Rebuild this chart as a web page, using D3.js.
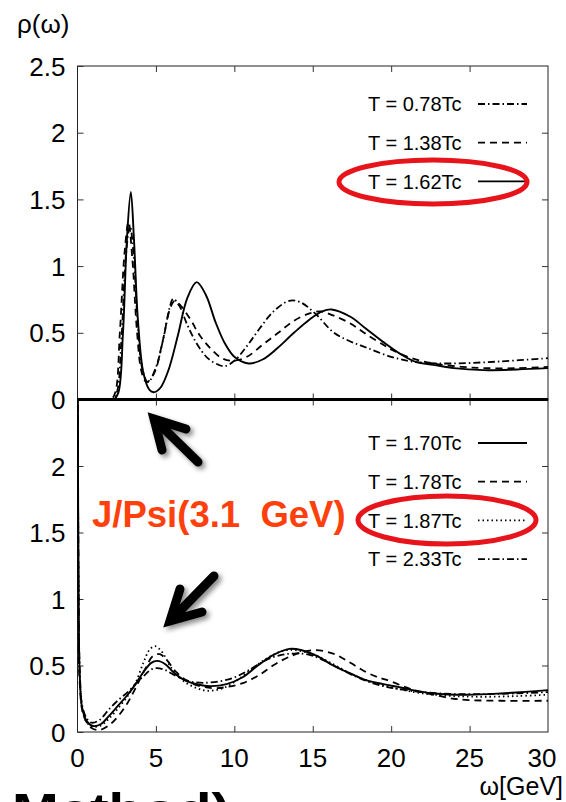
<!DOCTYPE html>
<html><head><meta charset="utf-8">
<script src="https://cdn.jsdelivr.net/npm/d3@7"></script>
<style>
html,body{margin:0;padding:0;background:#fff;}
svg{display:block;font-family:"Liberation Sans",Arial,Helvetica,sans-serif;}
</style></head>
<body><div id="chart"></div>
<script>
// ---------- data ----------
const xTicks = [0,5,10,15,20,25,30];
const yTicksTop = [0,0.5,1,1.5,2,2.5];
const yTicksBottom = [0,0.5,1,1.5,2];
const topLabels = ["T = 0.78Tc","T = 1.38Tc","T = 1.62Tc"];
const bottomLabels = ["T = 1.70Tc","T = 1.78Tc","T = 1.87Tc","T = 2.33Tc"];

// top panel
const top078 = [[0,0],[2.2,0],[2.5,0.05],[2.8,0.45],[3.1,1.1],[3.35,1.3],[3.6,1.05],[3.85,0.55],[4.15,0.22],[4.5,0.13],[5.0,0.24],[5.5,0.47],[5.9,0.7],[6.1,0.755],[6.5,0.7],[7.0,0.56],[7.6,0.42],[8.3,0.31],[9.0,0.26],[9.4,0.25],[10.0,0.29],[10.8,0.4],[11.6,0.53],[12.5,0.66],[13.5,0.74],[14.2,0.73],[15.2,0.64],[16.3,0.505],[17.3,0.44],[18.4,0.39],[20.0,0.32],[21.6,0.28],[23.8,0.27],[26.9,0.285],[30,0.31]];
const top138 = [[0,0],[2.1,0],[2.4,0.05],[2.7,0.5],[3.0,1.1],[3.25,1.33],[3.5,1.05],[3.8,0.5],[4.1,0.2],[4.4,0.13],[4.9,0.2],[5.4,0.42],[5.9,0.68],[6.2,0.74],[6.6,0.7],[7.2,0.6],[7.8,0.48],[8.5,0.38],[9.2,0.31],[9.9,0.29],[10.8,0.32],[11.8,0.41],[12.8,0.5],[13.8,0.59],[14.8,0.645],[15.5,0.66],[16.3,0.63],[17.4,0.57],[18.4,0.49],[19.5,0.41],[20.1,0.37],[21.3,0.31],[22.7,0.27],[24.5,0.245],[26,0.235],[28,0.235],[30,0.245]];
const top162 = [[0,0],[2.3,0],[2.6,0.05],[2.9,0.5],[3.15,1.2],[3.4,1.555],[3.6,1.2],[3.85,0.6],[4.2,0.2],[4.6,0.07],[4.9,0.055],[5.3,0.09],[5.8,0.22],[6.4,0.48],[7.0,0.76],[7.6,0.88],[8.2,0.78],[8.8,0.58],[9.4,0.42],[10.0,0.32],[10.9,0.27],[11.8,0.3],[12.7,0.38],[13.8,0.5],[14.8,0.6],[15.6,0.66],[16.2,0.675],[17.4,0.62],[18.4,0.53],[19.5,0.43],[20.6,0.34],[21.6,0.28],[22.7,0.26],[24.0,0.235],[25.9,0.22],[28,0.225],[30,0.235]];

// bottom panel
const bot170 = [[0.02,3],[0.06,1.2],[0.15,0.4],[0.3,0.18],[0.6,0.08],[1.0,0.045],[1.5,0.06],[2.0,0.12],[2.6,0.2],[3.2,0.28],[3.7,0.36],[4.2,0.45],[4.7,0.52],[5.1,0.535],[5.6,0.51],[6.2,0.44],[7.0,0.38],[8.0,0.35],[8.5,0.345],[9.5,0.36],[10.5,0.41],[11.5,0.5],[12.5,0.58],[13.5,0.625],[14.3,0.615],[15.3,0.57],[16.3,0.5],[17.4,0.44],[18.4,0.39],[19.5,0.36],[20.6,0.335],[21.6,0.31],[22.7,0.29],[24.8,0.28],[27,0.29],[30,0.315]];
const bot178 = [[0.02,3],[0.06,1.2],[0.15,0.35],[0.4,0.12],[0.9,0.03],[1.4,0.015],[2.0,0.05],[2.6,0.12],[3.2,0.22],[3.7,0.33],[4.3,0.47],[4.8,0.57],[5.25,0.585],[5.7,0.54],[6.3,0.45],[7.2,0.37],[8.6,0.33],[9.6,0.34],[10.6,0.37],[11.6,0.43],[12.6,0.51],[13.8,0.58],[15.0,0.615],[16.3,0.59],[17.4,0.52],[18.4,0.45],[19.2,0.41],[20.0,0.38],[21.3,0.32],[22.7,0.28],[24.0,0.25],[25.0,0.24],[27,0.235],[30,0.235]];
const bot187 = [[0.02,3],[0.06,1.2],[0.15,0.4],[0.3,0.17],[0.6,0.07],[1.0,0.04],[1.5,0.05],[2.0,0.1],[2.6,0.18],[3.2,0.27],[3.7,0.37],[4.2,0.52],[4.6,0.62],[4.95,0.645],[5.4,0.6],[6.0,0.48],[6.8,0.38],[7.6,0.33],[8.3,0.31],[9.3,0.33],[10.3,0.4],[11.3,0.49],[12.3,0.57],[13.3,0.615],[14.2,0.61],[15.2,0.575],[16.3,0.51],[17.4,0.44],[18.4,0.39],[19.5,0.35],[20.6,0.32],[22,0.29],[24,0.27],[26,0.265],[28,0.27],[30,0.28]];
const bot233 = [[0.02,3],[0.06,1.2],[0.15,0.45],[0.3,0.2],[0.6,0.1],[0.9,0.07],[1.4,0.09],[2.0,0.17],[2.6,0.24],[3.2,0.3],[3.7,0.36],[4.3,0.43],[4.7,0.47],[5.05,0.48],[5.6,0.465],[6.3,0.42],[7.2,0.38],[8.0,0.37],[9.0,0.38],[10.0,0.41],[11.0,0.47],[12.0,0.54],[13.0,0.58],[13.8,0.59],[14.6,0.585],[15.5,0.55],[16.5,0.49],[17.5,0.43],[18.5,0.38],[19.5,0.345],[20.6,0.32],[22,0.3],[24,0.285],[26,0.285],[28,0.29],[30,0.3]];

// ---------- drawing ----------
const W = 566, H = 802;
const svg = d3.select("#chart").append("svg").attr("width",W).attr("height",H);
const defs = svg.append("defs");
const f = defs.append("filter").attr("id","shadow").attr("x","-50%").attr("y","-50%").attr("width","200%").attr("height","200%");
f.append("feDropShadow").attr("dx",3).attr("dy",3).attr("stdDeviation",2.5).attr("flood-color","#000").attr("flood-opacity",0.45);

const x = d3.scaleLinear([0,30],[77.5,548]);
const yT = d3.scaleLinear([0,2.5],[399.5,66]);
const yB = d3.scaleLinear([0,2.5],[732,399.5]);

defs.append("clipPath").attr("id","clipT").append("rect")
  .attr("x",x(0)).attr("y",yT(2.5)).attr("width",x(30)-x(0)).attr("height",yT(0)-yT(2.5));
defs.append("clipPath").attr("id","clipB").append("rect")
  .attr("x",x(0)-1).attr("y",yB(2.5)).attr("width",x(30)-x(0)+1).attr("height",yB(0)-yB(2.5));

const styles = {
  solid: null,
  dashed: "7,5",
  dotted: "1.5,3",
  dashdot: "7,3,1.5,3"
};

function panel(y, yTicks, clipId, series, labels, legendY0){
  const g = svg.append("g");
  g.append("rect").attr("x",x(0)).attr("y",y(2.5)).attr("width",x(30)-x(0)).attr("height",y(0)-y(2.5))
    .attr("fill","none").attr("stroke","#222").attr("stroke-width",1);
  const tickFmt = d => String(d);
  const ax = g.append("g").attr("transform",`translate(0,${y(0)})`)
    .call(d3.axisBottom(x).tickValues(xTicks.slice(1,-1)).tickSize(-6).tickFormat(""));
  const ax2 = g.append("g").attr("transform",`translate(0,${y(2.5)})`)
    .call(d3.axisTop(x).tickValues(xTicks.slice(1,-1)).tickSize(-6).tickFormat(""));
  const ayL = g.append("g").attr("transform",`translate(${x(0)},0)`)
    .call(d3.axisLeft(y).tickValues(yTicks).tickSize(-6).tickPadding(12).tickFormat(tickFmt));
  const ayR = g.append("g").attr("transform",`translate(${x(30)},0)`)
    .call(d3.axisRight(y).tickValues([0.5,1,1.5,2]).tickSize(-6).tickFormat(""));
  [ax,ax2,ayL,ayR].forEach(a=>{ a.select(".domain").remove(); a.selectAll("line").attr("stroke","#333"); });
  ayL.selectAll("text").attr("font-size",26).attr("fill","#000")
    .attr("font-family","'Liberation Sans',Arial,sans-serif").attr("dy","0.35em").attr("x",-12);
  const line = d3.line().x(d=>x(d[0])).y(d=>y(d[1])).curve(d3.curveCatmullRom.alpha(0.5));
  const cg = g.append("g").attr("clip-path",`url(#${clipId})`);
  series.forEach(s=>{
    cg.append("path").attr("d",line(s.data)).attr("fill","none").attr("stroke","#000")
      .attr("stroke-width",s.style==="solid"?1.9:1.8)
      .attr("stroke-dasharray",styles[s.style]);
  });
  series.forEach((s,i)=>{
    const ly = legendY0 + i*38.7;
    g.append("text").attr("x",368).attr("y",ly).attr("dy","0.36em").attr("font-size",20)
      .attr("fill","#000").text(labels[i]);
    g.append("line").attr("x1",478).attr("x2",527).attr("y1",ly).attr("y2",ly)
      .attr("stroke","#000").attr("stroke-width",1.8).attr("stroke-dasharray",styles[s.style]);
  });
  return g;
}

panel(yB, yTicksBottom, "clipB", [
  {data:bot170, style:"solid"},
  {data:bot178, style:"dashed"},
  {data:bot187, style:"dotted"},
  {data:bot233, style:"dashdot"}
], bottomLabels, 443);

panel(yT, yTicksTop, "clipT", [
  {data:top078, style:"dashdot"},
  {data:top138, style:"dashed"},
  {data:top162, style:"solid"}
], topLabels, 104);

svg.append("line").attr("x1",x(0)).attr("x2",x(30)).attr("y1",yT(0)).attr("y2",yT(0))
  .attr("stroke","#000").attr("stroke-width",3);

// x tick labels
svg.append("g").selectAll("text").data(xTicks).join("text")
  .attr("x",d=>x(d) - (d===30?6:0)).attr("y",767).attr("text-anchor","middle").attr("font-size",26).attr("fill","#000")
  .text(d=>String(d));

// axis titles
svg.append("text").attr("x",17).attr("y",33).attr("font-size",26).attr("fill","#000").text("ρ(ω)");
svg.append("text").attr("x",563).attr("y",795).attr("text-anchor","end").attr("font-size",25).attr("fill","#000").text("ω[GeV]");

// annotations
svg.append("text").attr("x",92).attr("y",527).attr("font-size",36.5).attr("font-weight","bold")
  .attr("fill","#ff3f0c").style("white-space","pre").text("J/Psi(3.1  GeV)");

svg.append("ellipse").attr("cx",433).attr("cy",182).attr("rx",94).attr("ry",22)
  .attr("fill","none").attr("stroke","#e8141b").attr("stroke-width",5);
svg.append("ellipse").attr("cx",447).attr("cy",520).attr("rx",89).attr("ry",24)
  .attr("fill","none").attr("stroke","#e8141b").attr("stroke-width",5);

function arrow(tail, tip, a1, a2){
  const g = svg.append("g").attr("filter","url(#shadow)");
  g.append("path").attr("d",`M${tail[0]},${tail[1]}L${tip[0]},${tip[1]}M${a1[0]},${a1[1]}L${tip[0]},${tip[1]}L${a2[0]},${a2[1]}`)
    .attr("fill","none").attr("stroke","#000").attr("stroke-width",9)
    .attr("stroke-linecap","round").attr("stroke-linejoin","miter");
}
arrow([198,462],[154,419],[186,429],[162,450]);
arrow([214,576],[170,621],[202,612],[180,589]);

// cut-off slide text at the bottom
svg.append("text").attr("transform","translate(12,826) scale(1.22,1)")
  .attr("font-size",46).attr("font-weight","bold").attr("fill","#000").text("Method)");
</script>
</body></html>
